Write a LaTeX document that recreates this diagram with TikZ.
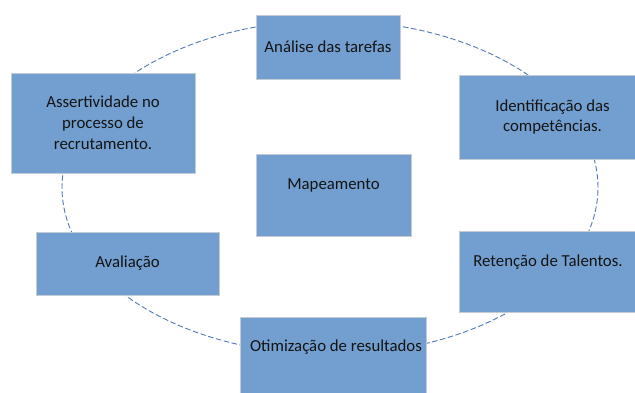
\documentclass[tikz,border=0pt]{standalone}
\usepackage{fontspec}
\setmainfont{Carlito}
\definecolor{boxfill}{RGB}{114,159,207}
\definecolor{boxedge}{RGB}{196,203,212}
\definecolor{ringcol}{RGB}{80,120,185}
\definecolor{txt}{RGB}{20,20,20}
\tikzset{
  box/.style={rectangle, fill=boxfill, draw=boxedge, line width=1pt, inner sep=0pt},
  lbl/.style={text=txt, align=center, inner sep=0pt, font=\fontsize{16.8}{20.8}\selectfont},
  ring/.style={draw=ringcol, line width=0.9pt, dash pattern=on 5.5pt off 2.6pt}
}
\begin{document}
\begin{tikzpicture}[x=1pt,y=-1pt]
\useasboundingbox (0,0) rectangle (635,392);
\coordinate (c) at (330,187.5);
\draw[ring] (c) ellipse [x radius=268pt, y radius=167pt];
% boxes
\node[box, minimum width=144pt, minimum height=64pt] (ana) at (328,47) {};
\node[box, minimum width=184pt, minimum height=100pt] (ass) at (103,123) {};
\node[box, minimum width=155pt, minimum height=82pt] (map) at (333.5,195) {};
\node[box, minimum width=181pt, minimum height=84pt] (ide) at (549.5,117) {};
\node[box, minimum width=181pt, minimum height=81pt] (ret) at (549.5,271.5) {};
\node[box, minimum width=183pt, minimum height=63pt] (ava) at (127.5,263.5) {};
\node[box, minimum width=186pt, minimum height=83pt] (oti) at (333,358.5) {};
% labels
\node[lbl] (tana) at (ana.center) {Análise das tarefas};
\node[lbl] (tass) at (ass.center) {Assertividade no\\processo de\\recrutamento.};
\node[lbl] (tmap) at ([yshift=10pt]map.center) {Mapeamento};
\node[lbl] (tide) at ([xshift=3pt]ide.center) {Identificação das\\competências.};
\node[lbl] (tret) at ([yshift=9.5pt,xshift=-1.5pt]ret.center) {Retenção de Talentos.};
\node[lbl] (tava) at (ava.center) {Avaliação};
\node[lbl] (toti) at ([yshift=11.5pt,xshift=3pt]oti.center) {Otimização de resultados};
\end{tikzpicture}
\end{document}
